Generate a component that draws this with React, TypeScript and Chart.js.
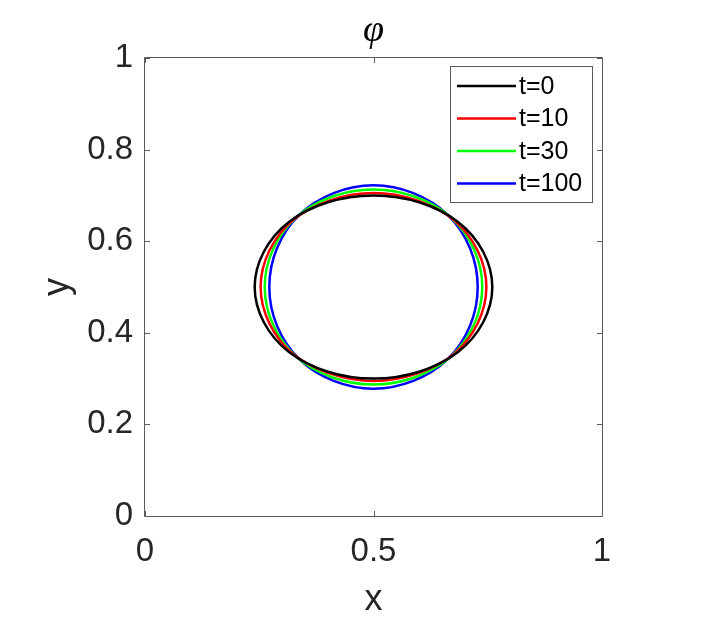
import React, { useEffect, useRef } from 'react';
import { Chart, registerables } from 'chart.js';

Chart.register(...registerables);

// ---- data ----
const seriesLabels = ['t=0', 't=10', 't=30', 't=100'];
const seriesColors = ['#000000', '#ff0000', '#00ff00', '#0000ff'];

// contour points, counter-clockwise starting at the right-most point
const xT0 = [0.760, 0.740, 0.685, 0.600, 0.500, 0.400, 0.315, 0.260, 0.240, 0.260, 0.315, 0.400, 0.500, 0.600, 0.685, 0.740];
const yT0 = [0.500, 0.577, 0.642, 0.685, 0.700, 0.685, 0.642, 0.577, 0.500, 0.423, 0.358, 0.315, 0.300, 0.315, 0.358, 0.423];

const xT10 = [0.747, 0.728, 0.676, 0.595, 0.500, 0.405, 0.324, 0.272, 0.253, 0.272, 0.324, 0.405, 0.500, 0.595, 0.676, 0.728];
const yT10 = [0.500, 0.579, 0.646, 0.689, 0.705, 0.689, 0.646, 0.579, 0.500, 0.421, 0.354, 0.311, 0.295, 0.311, 0.354, 0.421];

const xT30 = [0.738, 0.720, 0.669, 0.591, 0.500, 0.409, 0.331, 0.280, 0.262, 0.280, 0.331, 0.409, 0.500, 0.591, 0.669, 0.720];
const yT30 = [0.500, 0.582, 0.652, 0.697, 0.713, 0.697, 0.652, 0.582, 0.500, 0.418, 0.348, 0.303, 0.287, 0.303, 0.348, 0.418];

const xT100 = [0.728, 0.711, 0.662, 0.587, 0.500, 0.413, 0.338, 0.289, 0.272, 0.289, 0.338, 0.413, 0.500, 0.587, 0.662, 0.711];
const yT100 = [0.500, 0.585, 0.658, 0.705, 0.722, 0.705, 0.658, 0.585, 0.500, 0.415, 0.342, 0.295, 0.278, 0.295, 0.342, 0.415];

const seriesX = [xT0, xT10, xT30, xT100];
const seriesY = [yT0, yT10, yT30, yT100];

const xTicks = [0, 0.5, 1];
const yTicks = [0, 0.2, 0.4, 0.6, 0.8, 1];

const titleText = 'φ';
const xTitle = 'x';
const yTitle = 'y';

const AXIS_COLOR = '#262626';
const FRAME_COLOR = '#5a5a5a';

// closed contour: wrap one point on each side so every drawn segment has smooth tangents
function closedLoop(xs: number[], ys: number[]) {
  const pts = xs.map((x, i) => ({ x, y: ys[i] }));
  const n = pts.length;
  return [pts[n - 1], ...pts, pts[0], pts[1]];
}

const framePlugin = {
  id: 'frameAndTicks',
  afterDraw(chart: any) {
    const { ctx, chartArea } = chart;
    const { left, right, top, bottom } = chartArea;
    const xs = chart.scales.x;
    const ys = chart.scales.y;
    ctx.save();
    ctx.strokeStyle = FRAME_COLOR;
    ctx.lineWidth = 1;
    ctx.beginPath();
    ctx.rect(Math.round(left) - 0.5, Math.round(top) - 0.5, Math.round(right - left) + 1, Math.round(bottom - top) + 1);
    ctx.stroke();
    const tl = 5;
    ctx.beginPath();
    xTicks.forEach((v) => {
      const px = Math.round(xs.getPixelForValue(v)) + 0.5;
      ctx.moveTo(px, bottom);
      ctx.lineTo(px, bottom - tl);
      ctx.moveTo(px, top);
      ctx.lineTo(px, top + tl);
    });
    yTicks.forEach((v) => {
      const py = Math.round(ys.getPixelForValue(v)) + 0.5;
      ctx.moveTo(left, py);
      ctx.lineTo(left + tl, py);
      ctx.moveTo(right, py);
      ctx.lineTo(right - tl, py);
    });
    ctx.stroke();

    // legend box (top-right inside the axes)
    const bx = right - 152;
    const by = top + 8;
    const bw = 142;
    const bh = 136;
    ctx.fillStyle = '#ffffff';
    ctx.fillRect(bx, by, bw, bh);
    ctx.strokeStyle = FRAME_COLOR;
    ctx.strokeRect(bx + 0.5, by + 0.5, bw, bh);
    ctx.font = '25px "Liberation Sans", Arial, sans-serif';
    ctx.textBaseline = 'middle';
    ctx.textAlign = 'left';
    chart.data.datasets.forEach((ds: any, i: number) => {
      const ry = by + 20 + i * 32.5;
      ctx.strokeStyle = seriesColors[i];
      ctx.lineWidth = 2.5;
      ctx.beginPath();
      ctx.moveTo(bx + 7, ry);
      ctx.lineTo(bx + 66, ry);
      ctx.stroke();
      ctx.fillStyle = '#000000';
      ctx.fillText(ds.label, bx + 69, ry + 1);
    });
    ctx.restore();
  },
};

export default function App() {
  const canvasRef = useRef<HTMLCanvasElement | null>(null);

  useEffect(() => {
    const canvas = canvasRef.current;
    if (!canvas) return;
    const datasets = seriesLabels.map((label, i) => {
      const data = closedLoop(seriesX[i], seriesY[i]);
      const last = data.length - 1;
      const color = seriesColors[i];
      return {
        label,
        data,
        borderColor: color,
        backgroundColor: color,
        borderWidth: 2.5,
        pointRadius: 0,
        pointHoverRadius: 0,
        fill: false,
        tension: 0.34,
        yAxisID: 'y',
        segment: {
          borderColor: (c: any) => (c.p0DataIndex === 0 || c.p1DataIndex === last ? 'rgba(0,0,0,0)' : color),
        },
      };
    });

    const chart = new Chart(canvas, {
      type: 'line',
      data: { datasets },
      options: {
        animation: false,
        responsive: false,
        maintainAspectRatio: false,
        layout: { padding: { left: 29, right: 0, top: 0, bottom: 0 } },
        plugins: {
          legend: { display: false },
          tooltip: { enabled: false },
          title: {
            display: true,
            text: titleText,
            color: '#000000',
            font: { family: '"Liberation Serif", "Times New Roman", serif', size: 38, style: 'italic', weight: 'normal', lineHeight: 1.2 },
            padding: { top: 8, bottom: 4.4 },
          },
        },
        scales: {
          x: {
            type: 'linear',
            min: 0,
            max: 1,
            grid: { display: false, drawTicks: false },
            border: { display: false },
            afterBuildTicks: (s: any) => {
              s.ticks = xTicks.map((v) => ({ value: v }));
            },
            afterFit: (s: any) => {
              s.height = 106;
            },
            ticks: {
              padding: 16,
              color: AXIS_COLOR,
              font: { family: '"Liberation Sans", Arial, sans-serif', size: 33, lineHeight: 1.2 },
              maxRotation: 0,
              autoSkip: false,
              callback: (v: any) => String(v),
            },
            title: {
              display: true,
              text: xTitle,
              color: AXIS_COLOR,
              font: { family: '"Liberation Sans", Arial, sans-serif', size: 36, lineHeight: 1.2 },
              padding: { top: 0, bottom: 0 },
            },
          },
          y: {
            type: 'linear',
            position: 'left',
            min: 0,
            max: 1,
            grid: { display: false, drawTicks: false },
            border: { display: false },
            afterBuildTicks: (s: any) => {
              s.ticks = yTicks.map((v) => ({ value: v }));
            },
            afterFit: (s: any) => {
              s.width = 116;
            },
            ticks: {
              padding: 12,
              color: AXIS_COLOR,
              font: { family: '"Liberation Sans", Arial, sans-serif', size: 33, lineHeight: 1.2 },
              autoSkip: false,
              callback: (v: any) => String(v),
            },
            title: {
              display: true,
              text: yTitle,
              color: AXIS_COLOR,
              font: { family: '"Liberation Sans", Arial, sans-serif', size: 36, lineHeight: 1.2 },
              padding: { top: 7, bottom: 0 },
            },
          },
          yRight: {
            type: 'linear',
            position: 'right',
            min: 0,
            max: 1,
            grid: { display: false, drawTicks: false },
            border: { display: false },
            ticks: { display: false },
            afterFit: (s: any) => {
              s.width = 116;
            },
          },
        },
      },
      plugins: [framePlugin],
    } as any);

    return () => {
      chart.destroy();
    };
  }, []);

  return (
    <div style={{ position: 'fixed', left: 0, top: 0, width: 718, height: 622, background: '#ffffff' }}>
      <canvas ref={canvasRef} width={718} height={622} style={{ display: 'block', width: 718, height: 622 }} />
    </div>
  );
}
